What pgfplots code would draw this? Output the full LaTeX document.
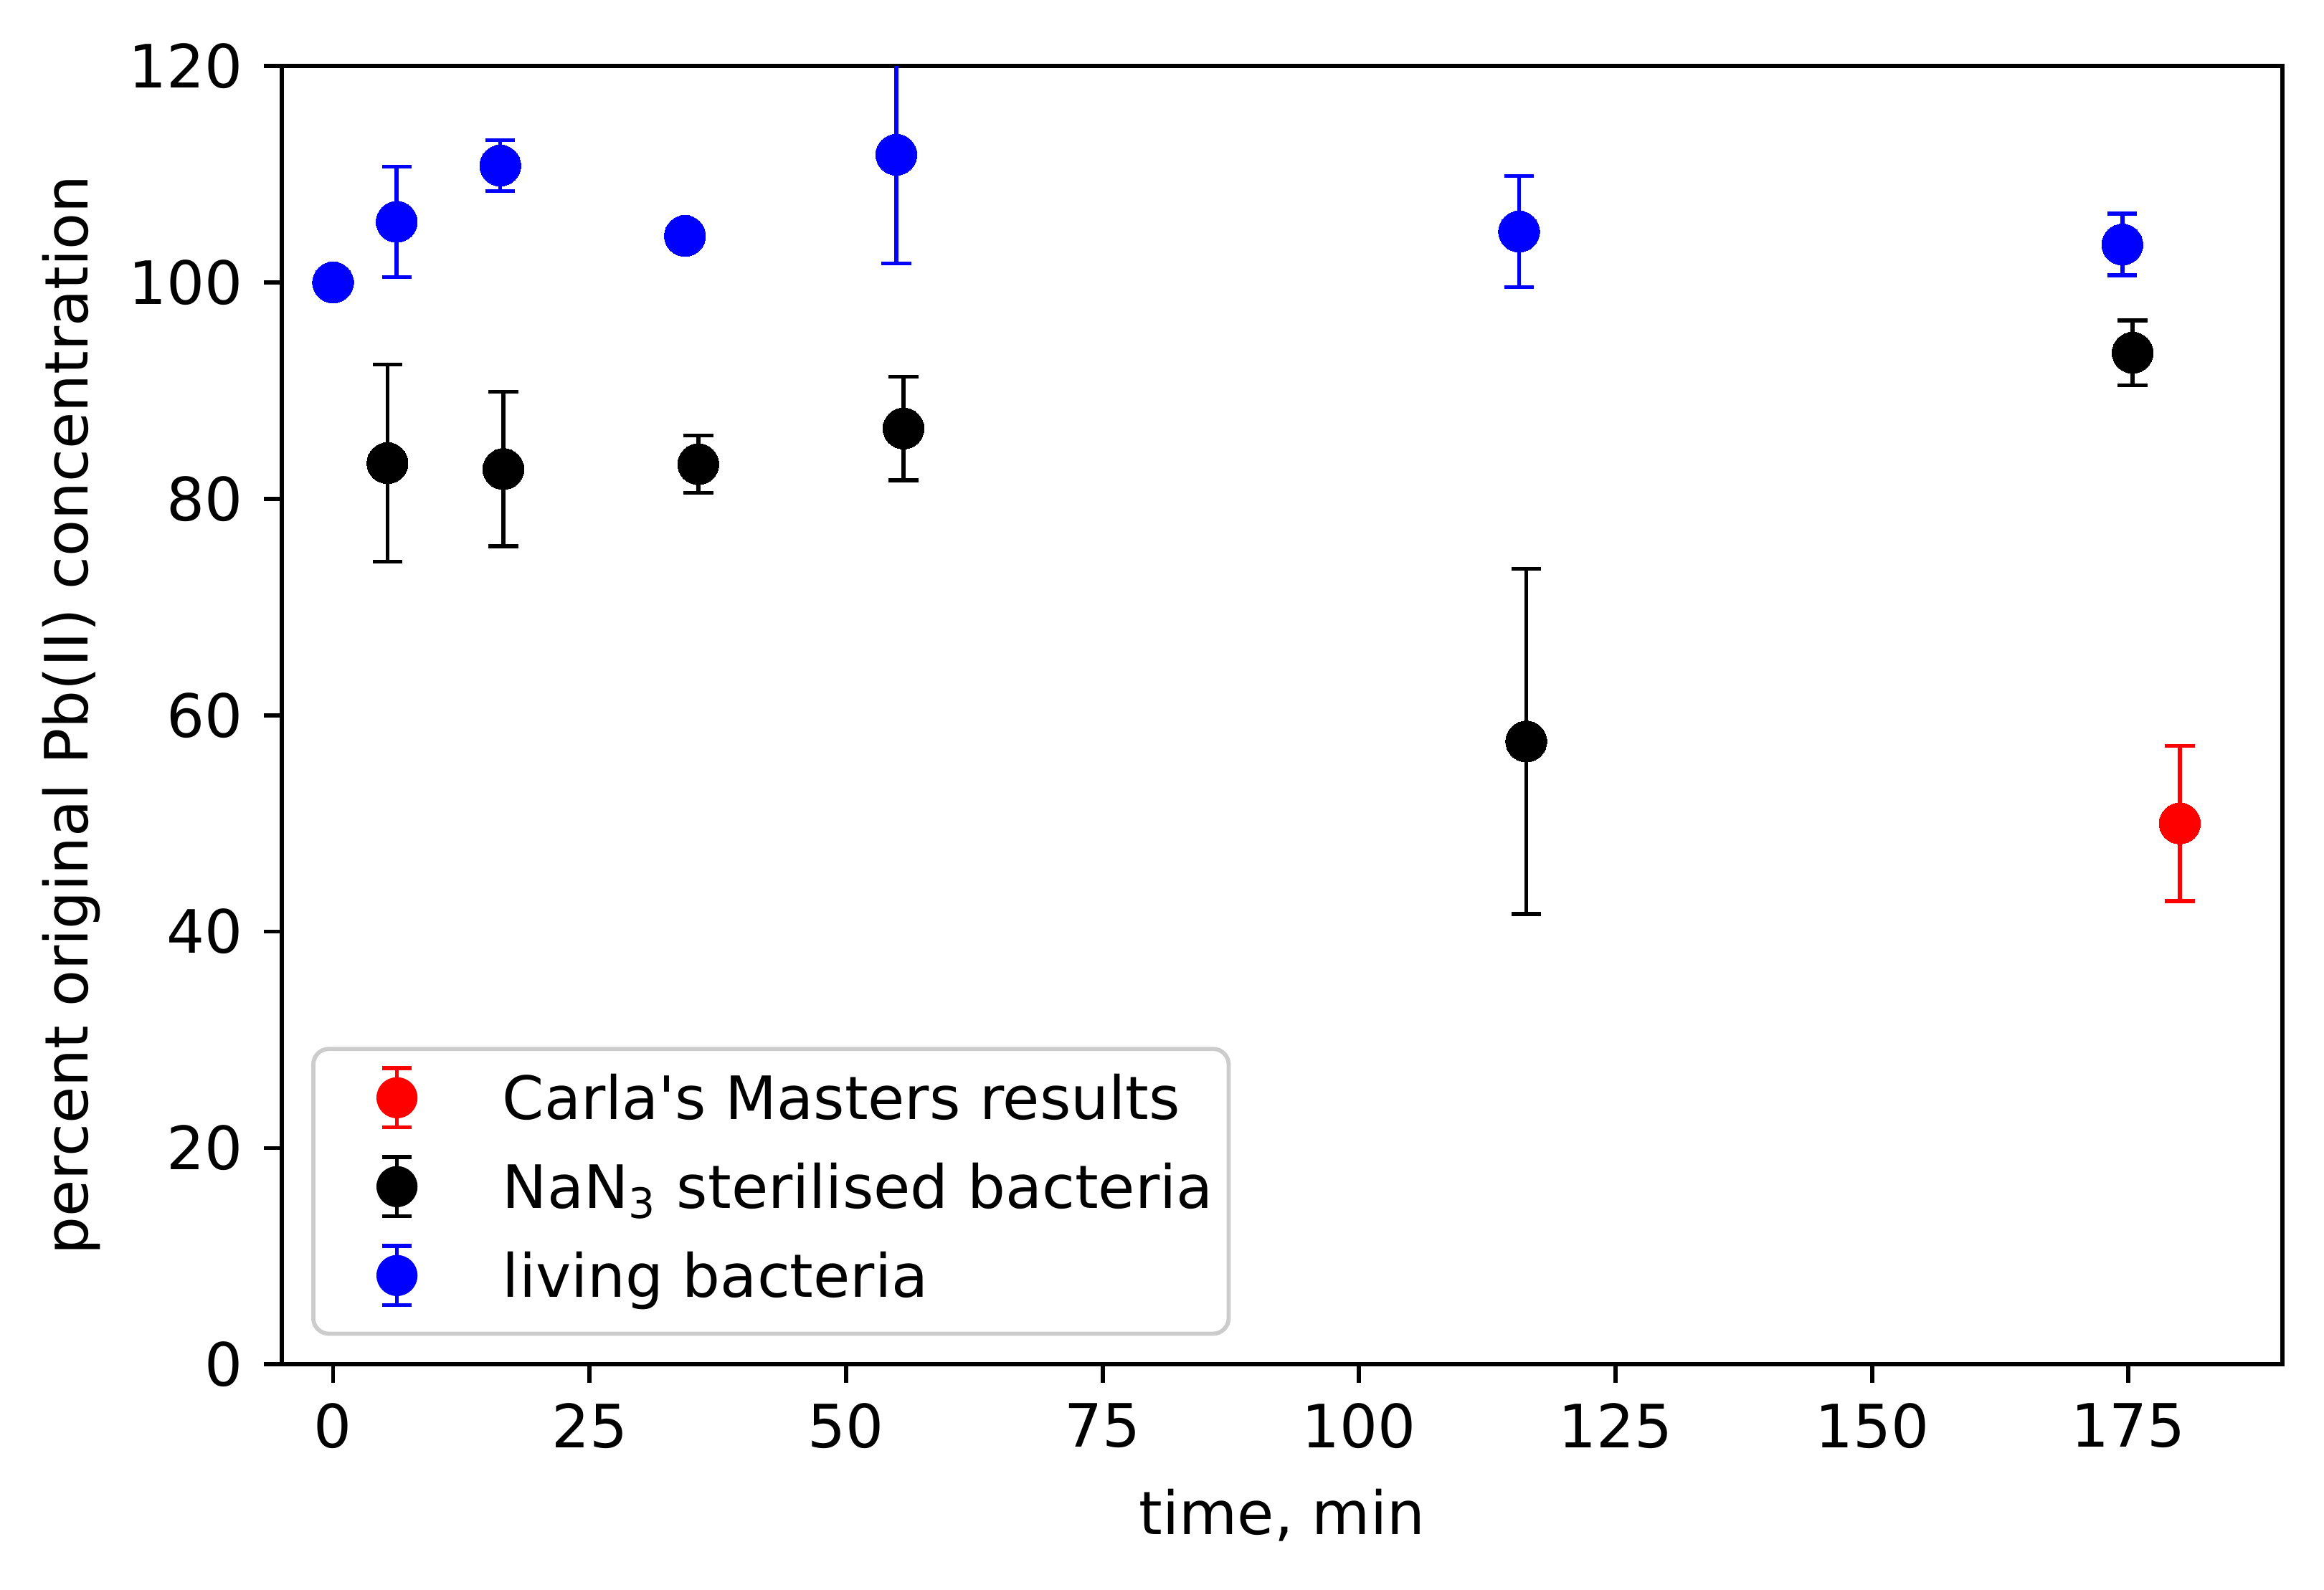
\documentclass[12pt,border=0pt]{standalone}
\usepackage{fontspec}
\setmainfont{DejaVu Sans}
\usepackage{pgfplots}
\pgfplotsset{compat=1.18}

\newcommand\legerr[1]{%
  \path[draw=none, fill=none] (-13.1pt,-9.45pt) rectangle (20.3pt,7.65pt);
  \draw[#1, line width=0.75pt, rounded corners=0pt] (0pt,-5.7pt) -- (0pt,5.7pt)
     (-2.85pt,-5.7pt) -- (2.85pt,-5.7pt)
     (-2.85pt,5.7pt) -- (2.85pt,5.7pt);
  \fill[#1, draw=none] (0pt,0pt) circle (3.95pt);}

\pgfplotstableread{
x y e
180 50.0 7.17
}\carla
\pgfplotstableread{
x y e
5.3 83.3 9.1
16.6 82.75 7.13
35.6 83.2 2.66
55.6 86.5 4.8
116.3 57.57 15.95
175.4 93.5 3.0
}\nan
\pgfplotstableread{
x y e
0 100.0 0
6.2 105.6 5.1
16.3 110.8 2.35
34.3 104.3 0
54.9 111.8 10.05
115.6 104.7 5.15
174.4 103.5 2.85
}\living

\pgfplotsset{
  errpts/.style={only marks, mark=*, mark size=3.95pt, color=#1,
    mark options={line width=0pt, fill=#1, draw=#1},
    error bars/y dir=both, error bars/y explicit,
    error bars/error bar style={line width=0.75pt, #1},
    error bars/error mark options={line width=0.75pt, mark size=2.85pt, rotate=90, #1}},
}

\begin{document}
\fontsize{11.5}{13.8}\selectfont
\begin{tikzpicture}
\begin{axis}[
  at={(0,0)}, anchor=south west,
  scale only axis, width=384.8pt, height=249.8pt,
  xmin=-5, xmax=190, ymin=0, ymax=120,
  xtick={0,25,...,175}, ytick={0,20,...,120},
  tick align=outside, xtick pos=bottom, ytick pos=left,
  major tick length=3.5pt,
  every tick/.style={black, line width=0.8pt},
  axis line style={line width=0.8pt},
  /pgf/number format/assume math mode=true,
  xlabel={time, min},
  ylabel={percent original Pb(II) concentration},
  xlabel style={at={([yshift=-32.7pt]axis description cs:0.5,0)}, anchor=base},
  ylabel style={at={([xshift=-37.3pt]axis description cs:0,0.5)}, anchor=base},
  legend cell align=left,
  legend style={at={(axis description cs:0,0)}, anchor=south west,
    xshift=5.66pt, yshift=5.5pt, draw=black!20, line width=0.8pt,
    rounded corners=3pt, fill=white, inner xsep=3pt, inner ysep=1.75pt,
    row sep=0pt, column sep=0pt,
    nodes={inner sep=0pt, text height=9.6pt, text depth=1.15pt, anchor=west}},
]
\addplot[legend image code/.code={\legerr{red}}, errpts=red]
  table[x=x, y=y, y error=e] {\carla};
\addlegendentry{Carla\textquotesingle s Masters results}
\addplot[legend image code/.code={\legerr{black}}, errpts=black]
  table[x=x, y=y, y error=e] {\nan};
\addlegendentry{NaN\textsubscript{3} sterilised bacteria}
\addplot[legend image code/.code={\legerr{blue}}, errpts=blue]
  table[x=x, y=y, y error=e] {\living};
\addlegendentry{living bacteria}
\end{axis}
\pgfresetboundingbox
\path[use as bounding box] ([shift={(-54.2pt,-43.3pt)}]current axis.south west)
  rectangle ([shift={(8pt,12.7pt)}]current axis.north east);
\end{tikzpicture}
\end{document}
